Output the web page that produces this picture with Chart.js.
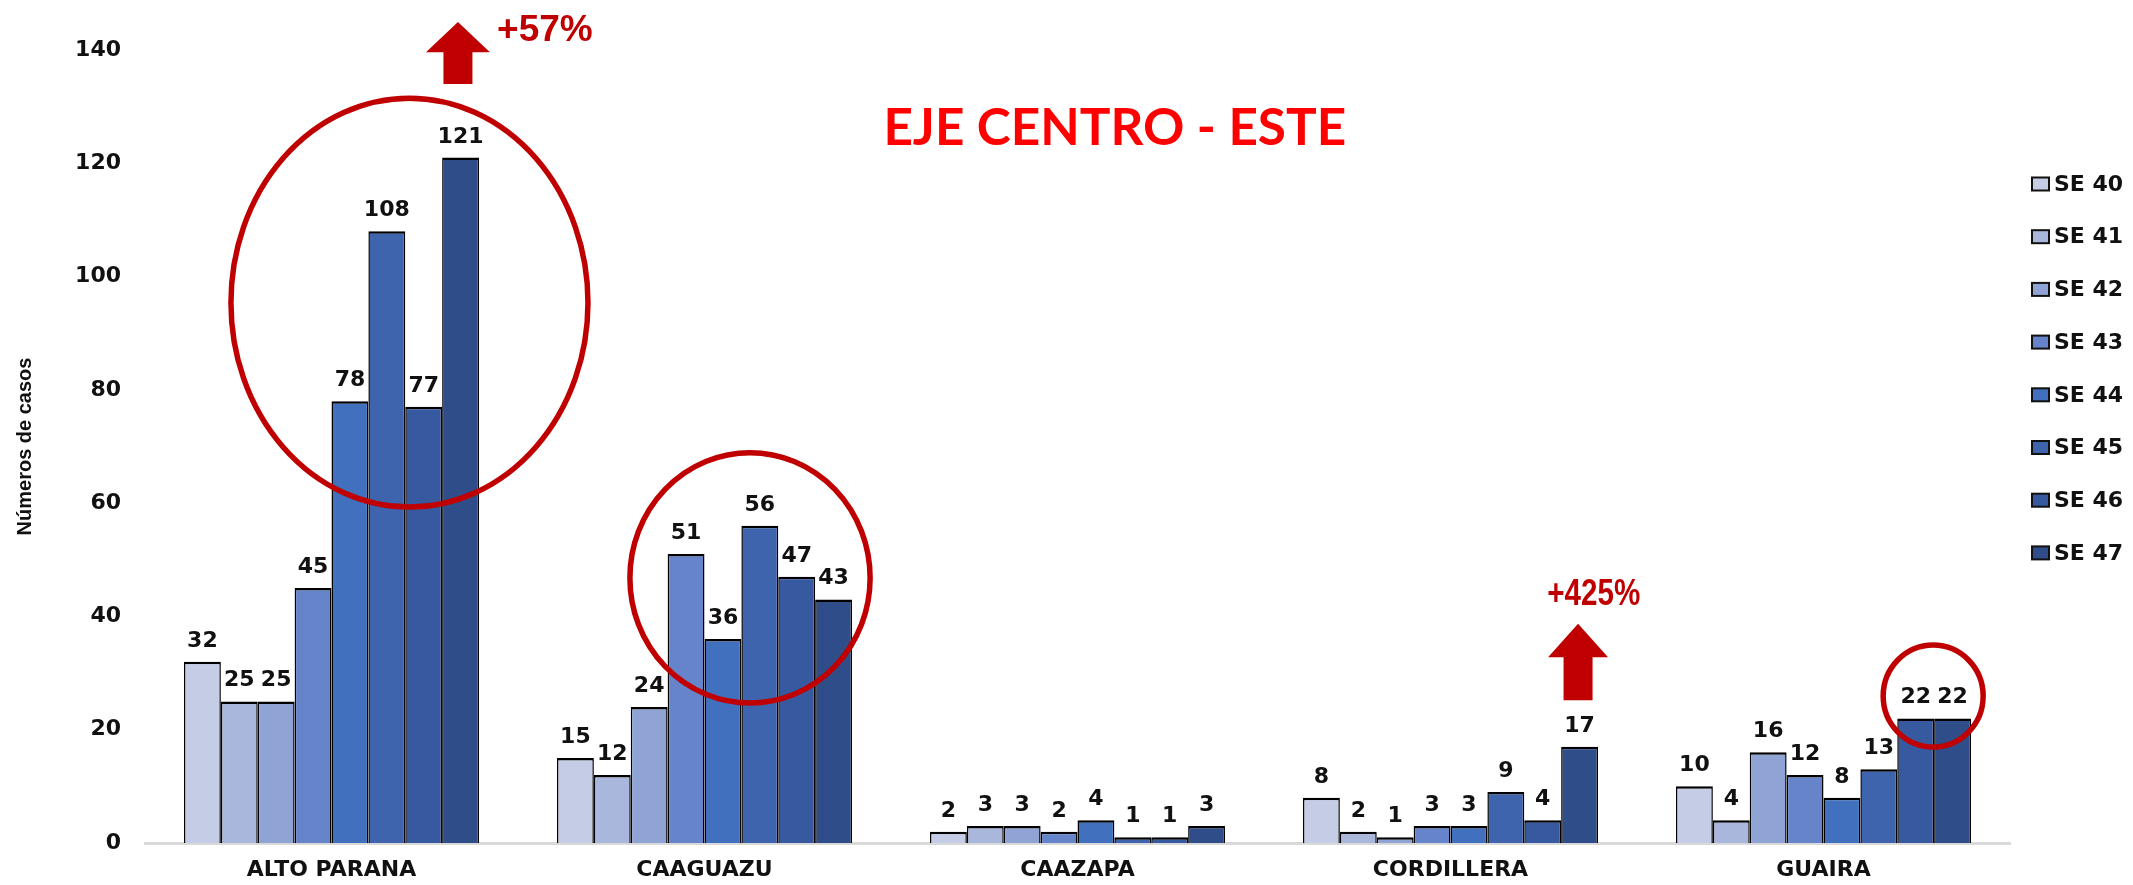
<!DOCTYPE html>
<html><head><meta charset="utf-8">
<script src="https://cdn.jsdelivr.net/npm/chart.js@4.4.1/dist/chart.umd.min.js"></script>
<style>html,body{margin:0;padding:0;background:#fff;overflow:hidden}#wrap{width:2133px;height:885px;position:relative}canvas{display:block}</style>
</head><body><div id="wrap"><canvas id="c" width="2133" height="885"></canvas></div>
<script>
// ---- data ----
const categories = ['ALTO PARANA', 'CAAGUAZU', 'CAAZAPA', 'CORDILLERA', 'GUAIRA'];
const seriesLabels = ['SE 40', 'SE 41', 'SE 42', 'SE 43', 'SE 44', 'SE 45', 'SE 46', 'SE 47'];
const se40 = [32, 15, 2, 8, 10];
const se41 = [25, 12, 3, 2, 4];
const se42 = [25, 24, 3, 1, 16];
const se43 = [45, 51, 2, 3, 12];
const se44 = [78, 36, 4, 3, 8];
const se45 = [108, 56, 1, 9, 13];
const se46 = [77, 47, 1, 4, 22];
const se47 = [121, 43, 3, 17, 22];
const seriesValues = [se40, se41, se42, se43, se44, se45, se46, se47];
const yTicks = [0, 20, 40, 60, 80, 100, 120, 140];
const yAxisTitle = 'Números de casos';
const chartTitle = 'EJE CENTRO - ESTE';
const increaseLabels = ['+57%', '+425%'];

// ---- styles ----
const seriesColors = ['#C5CDE6', '#AAB7DD', '#8FA3D5', '#6584CA', '#4070BE', '#3D64AC', '#3659A0', '#2F4E89'];
const FONT = 'DejaVu Sans';
const RED = '#C00000';

// annotation geometry (x in category units, y in value units)
const ellipses = [
  {cx: 0.209, cy: 95.4, rx: 0.4786, ry: 36.1},
  {cx: 1.122, cy: 46.8, rx: 0.322, ry: 22.1},
  {cx: 4.294, cy: 25.95, rx: 0.134, ry: 9.0}
];
const arrows = [
  {x: 0.339, tip: 144.95, head: 139.6, base: 134.0, headHalf: 32, shaftHalf: 14.5},
  {x: 3.342, tip: 38.7, head: 32.8, base: 25.2, headHalf: 30, shaftHalf: 14.5}
];
const increasePos = [
  {x: 0.444, y: 141.6, align: 'left', squeeze: 1.0},
  {x: 3.384, y: 42.0, align: 'center', squeeze: 0.8}
];

const datasets = seriesValues.map((vals, i) => ({
  label: seriesLabels[i],
  data: vals,
  backgroundColor: seriesColors[i],
  borderColor: '#000000',
  borderWidth: {top: 2.5, left: 1.5, right: 1.5, bottom: 0},
  borderSkipped: 'bottom',
  categoryPercentage: 0.791,
  barPercentage: 1.0
}));

const valueLabels = {
  id: 'valueLabels',
  afterDatasetsDraw(chart) {
    const ctx = chart.ctx;
    ctx.save();
    ctx.font = 'bold 22px "' + FONT + '"';
    ctx.fillStyle = '#111111';
    ctx.textAlign = 'center';
    ctx.textBaseline = 'alphabetic';
    chart.data.datasets.forEach((ds, di) => {
      const meta = chart.getDatasetMeta(di);
      meta.data.forEach((el, i) => {
        ctx.fillText(String(ds.data[i]), el.x, el.y - 15);
      });
    });
    ctx.restore();
  }
};

const customLegend = {
  id: 'customLegend',
  afterDraw(chart) {
    const ctx = chart.ctx;
    const a = chart.chartArea;
    ctx.save();
    ctx.font = 'bold 22px "' + FONT + '"';
    ctx.textBaseline = 'middle';
    ctx.textAlign = 'left';
    chart.data.datasets.forEach((ds, i) => {
      const y = 184 + i * 52.7;
      const bx = a.right + 22;
      ctx.fillStyle = ds.backgroundColor;
      ctx.fillRect(bx, y - 6.5, 17, 13);
      ctx.lineWidth = 2;
      ctx.strokeStyle = '#111';
      ctx.strokeRect(bx, y - 6.5, 17, 13);
      ctx.fillStyle = '#111111';
      ctx.fillText(ds.label, bx + 22, y + 1);
    });
    ctx.restore();
  }
};

const annotations = {
  id: 'annotations',
  afterDraw(chart) {
    const ctx = chart.ctx;
    const xs = chart.scales.x, ys = chart.scales.y;
    const X = v => xs.getPixelForValue(v);
    const Y = v => ys.getPixelForValue(v);
    ctx.save();
    // title
    let size = 50;
    ctx.font = 'bold ' + size + 'px Lato';
    const w = ctx.measureText(chartTitle).width;
    size = size * 463 / w;
    ctx.font = 'bold ' + size.toFixed(2) + 'px Lato';
    ctx.fillStyle = '#FF0000';
    ctx.textAlign = 'center';
    ctx.textBaseline = 'alphabetic';
    ctx.fillText(chartTitle, X(2.1), Y(126.4) + 0.7165 * size / 2);
    // ellipses
    ctx.strokeStyle = RED;
    ctx.lineWidth = 5.5;
    ellipses.forEach(e => {
      const cx = X(e.cx), cy = Y(e.cy);
      const rx = X(e.cx + e.rx) - cx, ry = Y(e.cy - e.ry) - cy;
      ctx.beginPath();
      ctx.ellipse(cx, cy, rx, ry, 0, 0, Math.PI * 2);
      ctx.stroke();
    });
    // arrows
    ctx.fillStyle = RED;
    arrows.forEach(a => {
      const x = X(a.x), t = Y(a.tip), h = Y(a.head), b = Y(a.base);
      ctx.beginPath();
      ctx.moveTo(x, t);
      ctx.lineTo(x + a.headHalf, h);
      ctx.lineTo(x + a.shaftHalf, h);
      ctx.lineTo(x + a.shaftHalf, b);
      ctx.lineTo(x - a.shaftHalf, b);
      ctx.lineTo(x - a.shaftHalf, h);
      ctx.lineTo(x - a.headHalf, h);
      ctx.closePath();
      ctx.fill();
    });
    // increase labels
    ctx.font = 'bold 37px "Liberation Sans"';
    ctx.fillStyle = RED;
    increaseLabels.forEach((txt, i) => {
      const p = increasePos[i];
      ctx.save();
      ctx.translate(X(p.x), Y(p.y));
      ctx.scale(p.squeeze, 1);
      ctx.textAlign = p.align;
      ctx.fillText(txt, 0, 0);
      ctx.restore();
    });
    ctx.restore();
  }
};

new Chart(document.getElementById('c'), {
  type: 'bar',
  data: {labels: categories, datasets: datasets},
  options: {
    responsive: false,
    devicePixelRatio: 1,
    animation: false,
    layout: {padding: {left: 0, right: 123, top: 50, bottom: 0}},
    plugins: {legend: {display: false}, title: {display: false}, tooltip: {enabled: false}},
    scales: {
      x: {
        grid: {display: false, drawTicks: false},
        border: {display: true, color: '#D9D9D9', width: 3},
        ticks: {font: {family: FONT, size: 22, weight: 'bold'}, color: '#111111', padding: 14, maxRotation: 0, autoSkip: false},
        afterFit(s) { s.height = 42; }
      },
      y: {
        min: 0, max: 140,
        grid: {display: false, drawTicks: false},
        border: {display: false},
        ticks: {font: {family: FONT, size: 22, weight: 'bold'}, color: '#111111', padding: 24},
        afterBuildTicks(s) { s.ticks = yTicks.map(v => ({value: v})); },
        title: {display: true, text: yAxisTitle, font: {family: 'Liberation Sans', size: 20, weight: 'bold'}, color: '#111111', padding: {top: 13, bottom: 0}},
        afterFit(s) { s.width = 145; }
      }
    }
  },
  plugins: [valueLabels, annotations, customLegend]
});
</script>
</body></html>
